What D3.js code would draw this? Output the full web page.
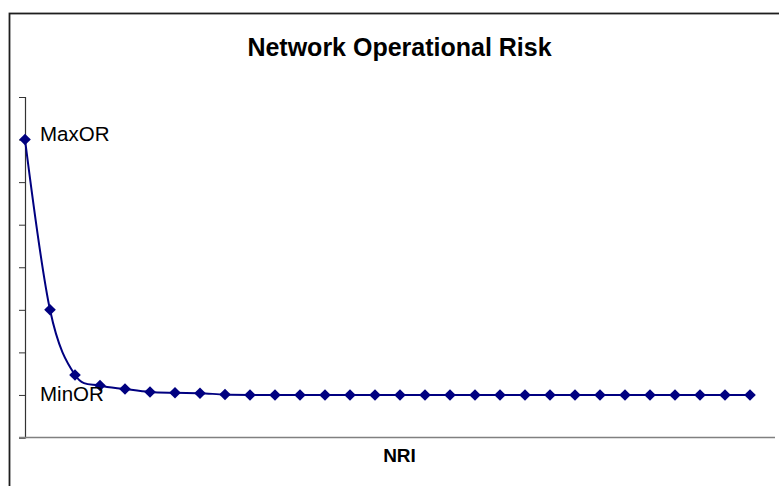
<!DOCTYPE html>
<html>
<head>
<meta charset="utf-8">
<script src="https://cdn.jsdelivr.net/npm/d3@7/dist/d3.min.js"></script>
<style>
  body { margin: 0; background: #fff; }
  text { font-family: "Liberation Sans", Arial, sans-serif; }
</style>
</head>
<body>
<div id="chart"></div>
<script>
var wid = 779,
	heig = 486;

// data
var nri = d3.range(1, 31);
var risk = [7.0, 3.0, 1.47, 1.22, 1.14, 1.07, 1.05, 1.04, 1.01, 1.0,
            1.0, 1.0, 1.0, 1.0, 1.0, 1.0, 1.0, 1.0, 1.0, 1.0,
            1.0, 1.0, 1.0, 1.0, 1.0, 1.0, 1.0, 1.0, 1.0, 1.0];
var yTicks = [0, 1, 2, 3, 4, 5, 6, 7, 8];
var labelNames = ["MaxOR", "MinOR"];
var labelValues = [7, 1];

var svg = d3.select("#chart").append("svg:svg")
		.attr("width", wid)
		.attr("height", heig);

// outer chart border (cut by the window on right and bottom)
svg.append("svg:rect")
	.attr("x", 9.5)
	.attr("y", 13.5)
	.attr("width", 800)
	.attr("height", 480)
	.attr("fill", "#fff")
	.attr("stroke", "#1e1e1e")
	.attr("stroke-width", 1.8);

var x = d3.scaleLinear().domain([0, nri.length]).range([25, 775]);
var y = d3.scaleLinear().domain([0, 8]).range([437.5, 97]);

// y axis, ticks only
var yAxis = svg.append("svg:g")
	.attr("transform", "translate(" + x(0) + ",0)")
	.call(d3.axisLeft(y).tickValues(yTicks).tickSize(6).tickFormat(""));
yAxis.select(".domain").attr("stroke", "#333").attr("stroke-width", 1.2);
yAxis.selectAll(".tick line").attr("stroke", "#333").attr("stroke-width", 1);

// x axis line
svg.append("svg:line")
	.attr("x1", x(0) - 6)
	.attr("x2", x(nri.length))
	.attr("y1", y(0))
	.attr("y2", y(0))
	.attr("stroke", "#808080")
	.attr("stroke-width", 1.5);

//smoothed series line
var line = d3.line()
	.x(function(d, i) { return x(i); })
	.y(function(d) { return y(d); })
	.curve(d3.curveCatmullRom.alpha(0));

svg.append("svg:path")
	.datum(risk)
	.attr("d", line)
	.attr("fill", "none")
	.attr("stroke", "#000080")
	.attr("stroke-width", 2);

// diamond markers
svg.selectAll("path.marker")
	.data(risk)
	.enter().append("svg:path")
	.attr("class", "marker")
	.attr("d", "M0,-5.8L5.8,0L0,5.8L-5.8,0Z")
	.attr("transform", function(d, i) { return "translate(" + x(i) + "," + y(d) + ")"; })
	.attr("fill", "#000080");

// MaxOR / MinOR labels
svg.selectAll("text.ann")
	.data(labelNames)
	.enter().append("svg:text")
	.attr("class", "ann")
	.attr("x", x(0) + 15)
	.attr("y", function(d, i) { return y(labelValues[i]) + (i == 0 ? 1 : 6); })
	.style("font-size", "20.5px")
	.style("fill", "#000")
	.text(function(d) { return d; });

svg.append("svg:text")
	.attr("x", 399.5)
	.attr("y", 56)
	.attr("text-anchor", "middle")
	.style("font-size", "25px")
	.style("font-weight", "bold")
	.text("Network Operational Risk");

svg.append("svg:text")
	.attr("x", 399.5)
	.attr("y", 462)
	.attr("text-anchor", "middle")
	.style("font-size", "19px")
	.style("font-weight", "bold")
	.text("NRI");
</script>
</body>
</html>
